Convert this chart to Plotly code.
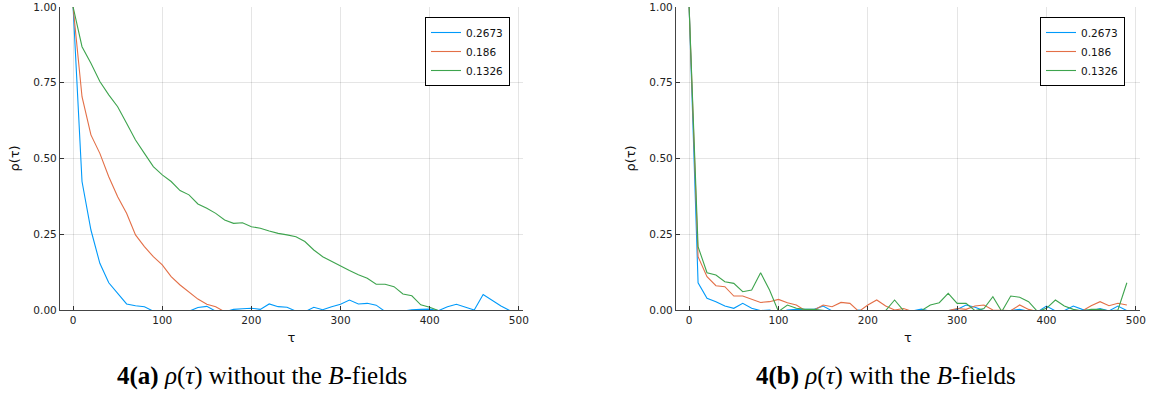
import plotly.graph_objects as go

tau = [0, 10, 20, 30, 40, 50, 60, 70, 80, 90,
       100, 110, 120, 130, 140, 150, 160, 170, 180, 190,
       200, 210, 220, 230, 240, 250, 260, 270, 280, 290,
       300, 310, 320, 330, 340, 350, 360, 370, 380, 390,
       400, 410, 420, 430, 440, 450, 460, 470, 480, 490]

series_names = ["0.2673", "0.186", "0.1326"]
series_colors = ["#009AFA", "#E36F47", "#3EA44E"]

# (a) without the B-fields
a_0p2673 = [1.0, 0.424, 0.264, 0.154, 0.09, 0.055, 0.02, 0.014, 0.011, -0.004,
            -0.01, -0.012, -0.01, -0.004, 0.008, 0.012, -0.004, -0.006, 0.002, 0.004,
            0.006, 0.002, 0.02, 0.011, 0.009, -0.004, -0.006, 0.009, 0.001, 0.011,
            0.019, 0.033, 0.02, 0.022, 0.016, -0.005, -0.01, -0.004, 0.001, 0.002,
            0.003, -0.002, 0.011, 0.019, 0.009, 0.0, 0.051, 0.033, 0.013, -0.002]
a_0p186 = [1.0, 0.704, 0.578, 0.517, 0.44, 0.374, 0.319, 0.248, 0.209, 0.176,
           0.149, 0.11, 0.0825, 0.06, 0.036, 0.019, 0.011, -0.006, -0.01, -0.012,
           -0.015, -0.012, -0.01, -0.014, -0.016, -0.012, -0.01, -0.013, -0.015, -0.012,
           -0.01, -0.012, -0.014, -0.011, -0.01, -0.013, -0.015, -0.012, -0.01, -0.012,
           -0.014, -0.011, -0.01, -0.012, -0.013, -0.011, -0.01, -0.012, -0.014, -0.012]
a_0p1326 = [1.0, 0.869, 0.814, 0.754, 0.71, 0.671, 0.616, 0.561, 0.517, 0.473,
            0.446, 0.424, 0.394, 0.38, 0.35, 0.336, 0.319, 0.297, 0.286, 0.288,
            0.275, 0.27, 0.261, 0.253, 0.248, 0.242, 0.226, 0.198, 0.176, 0.16,
            0.146, 0.13, 0.116, 0.105, 0.085, 0.085, 0.077, 0.053, 0.047, 0.017,
            0.009, -0.002, -0.008, -0.01, -0.012, -0.01, -0.008, -0.011, -0.012, -0.01]

# (b) with the B-fields
b_0p2673 = [1.0, 0.09, 0.0385, 0.0275, 0.013, 0.0055, 0.022, 0.0055, -0.002, 0.0,
            -0.01, 0.0, 0.002, 0.003, 0.002, 0.013, -0.003, -0.008, -0.006, 0.0,
            -0.005, -0.008, -0.01, -0.008, -0.006, -0.003, 0.003, -0.004, -0.006, -0.003,
            0.002, 0.0165, 0.009, -0.002, -0.006, -0.005, -0.002, 0.002, -0.004, -0.006,
            0.013, -0.003, -0.002, 0.013, 0.002, -0.003, 0.005, -0.003, 0.013, -0.002]
b_0p186 = [1.0, 0.176, 0.11, 0.08, 0.077, 0.046, 0.046, 0.035, 0.025, 0.0275,
           0.035, 0.024, 0.0165, -0.002, 0.0, 0.0165, 0.011, 0.025, 0.022, -0.005,
           0.0165, 0.033, 0.013, 0.0, 0.005, -0.005, -0.008, -0.01, -0.006, -0.002,
           0.005, 0.002, 0.013, 0.0165, 0.0, 0.0, -0.002, 0.0165, 0.002, -0.005,
           -0.008, -0.01, -0.008, -0.006, -0.003, 0.014, 0.0275, 0.014, 0.022, 0.0165]
b_0p1326 = [1.0, 0.209, 0.123, 0.1155, 0.0935, 0.088, 0.0605, 0.066, 0.123, 0.066,
            -0.005, 0.0165, 0.0055, 0.002, 0.002, -0.002, -0.006, -0.008, -0.006, -0.008,
            -0.006, -0.004, -0.002, 0.033, -0.002, -0.005, -0.002, 0.0165, 0.024, 0.055,
            0.022, 0.022, -0.002, 0.005, 0.044, -0.005, 0.046, 0.042, 0.0275, -0.005,
            0.0055, 0.033, 0.013, 0.002, -0.003, 0.002, 0.002, -0.003, 0.0, 0.09]

x_ticks = [0, 100, 200, 300, 400, 500]
y_ticks = [0.0, 0.25, 0.5, 0.75, 1.0]
y_tick_text = ["0.00", "0.25", "0.50", "0.75", "1.00"]

caption_a = "<b>4(a)</b> <i>ρ</i>(<i>τ</i>) without the <i>B</i>-fields"
caption_b = "<b>4(b)</b> <i>ρ</i>(<i>τ</i>) with the <i>B</i>-fields"

fig = go.Figure()

for ys, name, color in zip([a_0p2673, a_0p186, a_0p1326], series_names, series_colors):
    fig.add_trace(go.Scatter(x=tau, y=ys, mode="lines", name=name,
                             line=dict(color=color, width=1.1),
                             xaxis="x", yaxis="y", legend="legend"))
for ys, name, color in zip([b_0p2673, b_0p186, b_0p1326], series_names, series_colors):
    fig.add_trace(go.Scatter(x=tau, y=ys, mode="lines", name=name,
                             line=dict(color=color, width=1.1),
                             xaxis="x2", yaxis="y2", legend="legend2"))

W, H = 1153, 401


def fx(px):
    return px / W


def fy(py):
    return (H - py) / H


tick_font = dict(family="DejaVu Sans", size=10.5, color="#222")


def xaxis_cfg(left, right):
    return dict(domain=[fx(left), fx(right)], range=[-14.7, 504.7],
                tickvals=x_ticks, ticks="inside", ticklen=4, tickcolor="#333",
                showgrid=True, gridcolor="rgba(0,0,0,0.1)", gridwidth=1,
                showline=True, linecolor="#444", linewidth=1.3, zeroline=False,
                tickfont=tick_font, automargin=False,
                title=dict(text="τ", font=dict(family="DejaVu Sans", size=13, color="#111"),
                           standoff=8))


def yaxis_cfg(anchor):
    return dict(domain=[fy(310), fy(7)], range=[0, 1],
                tickvals=y_ticks, ticktext=y_tick_text, ticks="inside", ticklen=4,
                tickcolor="#333", showgrid=True, gridcolor="rgba(0,0,0,0.1)", gridwidth=1,
                showline=True, linecolor="#444", linewidth=1.3, zeroline=False,
                tickfont=tick_font, anchor=anchor, automargin=False,
                title=dict(text="ρ(τ)", font=dict(family="DejaVu Sans", size=13, color="#111"),
                           standoff=10))


legend_common = dict(bgcolor="white", bordercolor="black", borderwidth=1,
                     font=dict(family="DejaVu Sans", size=10.5, color="#111"),
                     yanchor="top", xanchor="right", tracegroupgap=0,
                     itemwidth=30)

fig.update_layout(
    width=W, height=H, autosize=False,
    margin=dict(l=0, r=0, t=0, b=0, autoexpand=False),
    paper_bgcolor="white", plot_bgcolor="white",
    xaxis=dict(**xaxis_cfg(60, 523), anchor="y"),
    yaxis=yaxis_cfg("x"),
    xaxis2=dict(**xaxis_cfg(676, 1140), anchor="y2"),
    yaxis2=yaxis_cfg("x2"),
    legend=dict(**legend_common, x=fx(510), y=fy(17)),
    legend2=dict(**legend_common, x=fx(1125), y=fy(17)),
    annotations=[
        dict(text=caption_a, x=fx(262), y=fy(376), xref="paper", yref="paper",
             xanchor="center", yanchor="middle", showarrow=False,
             font=dict(family="Liberation Serif", size=25, color="black")),
        dict(text=caption_b, x=fx(886), y=fy(376), xref="paper", yref="paper",
             xanchor="center", yanchor="middle", showarrow=False,
             font=dict(family="Liberation Serif", size=25, color="black")),
    ],
)

# Remove the default 8px page margin so the figure fills the window exactly.
fig.write_html("out.html",
               config={"displayModeBar": False},
               post_script="document.body.style.margin='0';document.body.style.overflow='hidden';")
